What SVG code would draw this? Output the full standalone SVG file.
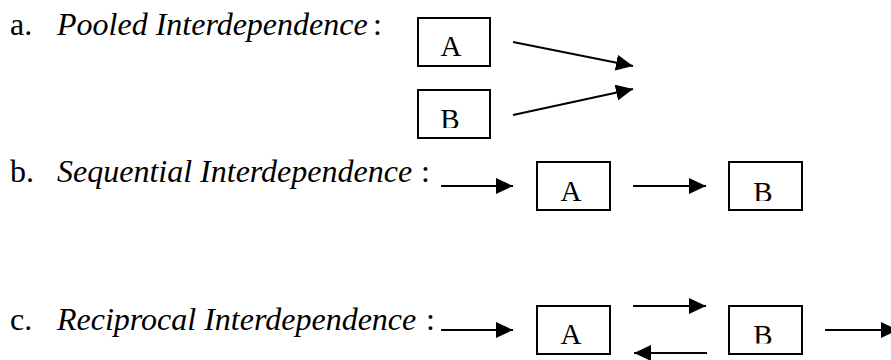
<svg xmlns="http://www.w3.org/2000/svg" width="891" height="360" viewBox="0 0 891 360">
<style>
.lbl{font-family:"Liberation Serif","Times New Roman",serif;font-size:32px;fill:#000}
.it{font-style:italic}
.box{fill:#fff;stroke:#000;stroke-width:2}
.bt{font-family:"Liberation Serif","Times New Roman",serif;font-size:29px;fill:#000;text-anchor:middle}
.con{stroke:#000;stroke-width:2.2;fill:none;marker-end:url(#ah)}
</style>
<defs>
<marker id="ah" markerUnits="userSpaceOnUse" markerWidth="17" markerHeight="16" refX="17" refY="8" orient="auto">
<path d="M0,0 L17,8 L0,16 z" fill="#000"/>
</marker>
<clipPath id="cB1"><rect x="418" y="90" width="72" height="38"/></clipPath>
<clipPath id="cB2"><rect x="729" y="162" width="73" height="39"/></clipPath>
<clipPath id="cB3"><rect x="729" y="306" width="73" height="37.5"/></clipPath>
</defs>
<rect width="891" height="360" fill="#fff"/>
<g id="labels">
<text class="lbl" x="10" y="35">a.</text>
<text class="lbl it" x="57" y="35">Pooled Interdependence</text>
<text class="lbl" x="373" y="35">:</text>
<text class="lbl" x="10" y="182">b.</text>
<text class="lbl it" x="57" y="182">Sequential Interdependence</text>
<text class="lbl" x="421" y="182">:</text>
<text class="lbl" x="10" y="330">c.</text>
<text class="lbl it" x="57" y="330">Reciprocal Interdependence</text>
<text class="lbl" x="426" y="330">:</text>
</g>
<g id="pooledA"><rect class="box" x="418" y="18" width="72" height="48"/><text class="bt" x="451" y="56">A</text></g>
<g id="pooledB"><rect class="box" x="418" y="90" width="72" height="48"/><text class="bt" x="450" y="129" clip-path="url(#cB1)">B</text></g>
<g id="seqA"><rect class="box" x="537" y="162" width="73" height="48"/><text class="bt" x="571" y="201">A</text></g>
<g id="seqB"><rect class="box" x="729" y="162" width="73" height="48"/><text class="bt" x="763" y="202" clip-path="url(#cB2)">B</text></g>
<g id="recA"><rect class="box" x="537" y="306" width="73" height="48"/><text class="bt" x="571" y="344">A</text></g>
<g id="recB"><rect class="box" x="729" y="306" width="73" height="48"/><text class="bt" x="763" y="345" clip-path="url(#cB3)">B</text></g>
<g id="connectors">
<line class="con" x1="513" y1="42" x2="633" y2="66"/>
<line class="con" x1="513" y1="115" x2="633" y2="89"/>
<line class="con" x1="441" y1="186" x2="513" y2="186"/>
<line class="con" x1="633" y1="186" x2="706" y2="186"/>
<line class="con" x1="441" y1="330" x2="513" y2="330"/>
<line class="con" x1="633" y1="306" x2="706" y2="306"/>
<line class="con" x1="707" y1="353" x2="634" y2="353"/>
<line class="con" x1="825" y1="330" x2="898" y2="330"/>
</g>
</svg>
